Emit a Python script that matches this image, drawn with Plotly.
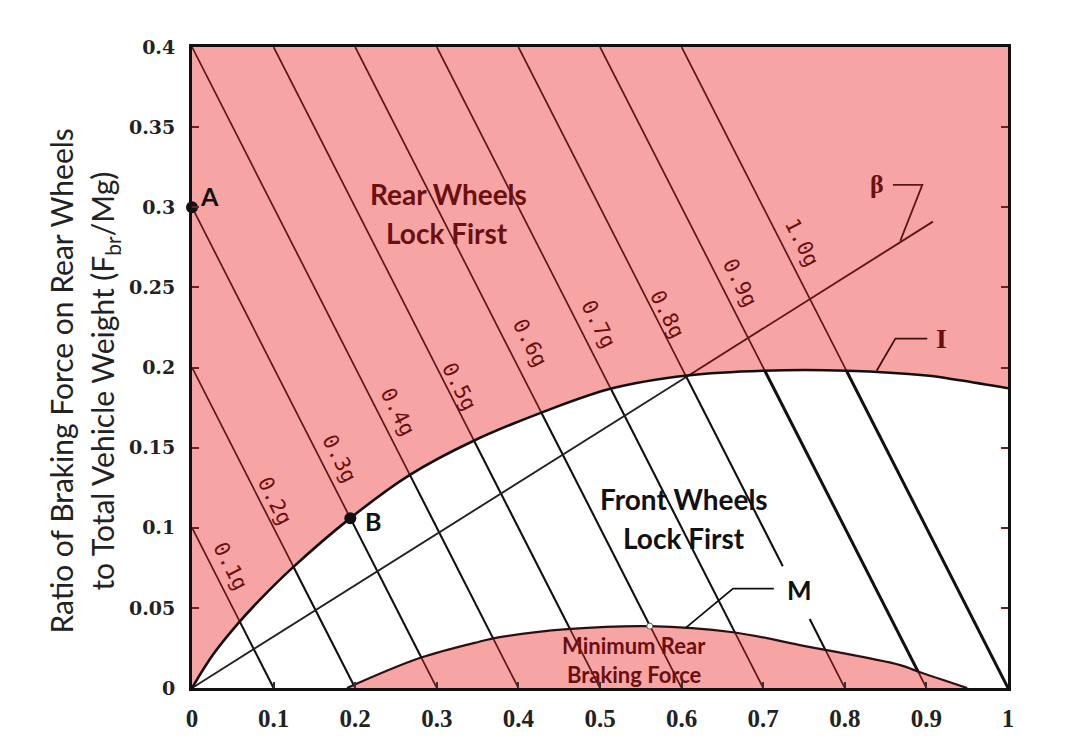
import math
import numpy as np
import plotly.graph_objects as go

# ---------------- data ----------------
decel_g = [0.1, 0.2, 0.3, 0.4, 0.5, 0.6, 0.7, 0.8, 0.9, 1.0]
decel_labels = ["0.1g", "0.2g", "0.3g", "0.4g", "0.5g", "0.6g", "0.7g", "0.8g", "0.9g", "1.0g"]

# ideal braking-force distribution curve "I"
ideal_x = [0.0, 0.026, 0.056, 0.083, 0.122, 0.194, 0.267, 0.344, 0.429, 0.515,
           0.607, 0.700, 0.803, 0.900, 0.941, 1.0]
ideal_y = [0.0, 0.021, 0.040, 0.055, 0.0745, 0.106, 0.133, 0.154, 0.172, 0.187,
           0.195, 0.198, 0.198, 0.195, 0.192, 0.187]

# minimum rear braking force curve "M"
minrear_x = [0.19, 0.279, 0.353, 0.377, 0.46, 0.561, 0.663, 0.745, 0.868, 0.888, 0.95]
minrear_y = [0.0, 0.0187, 0.029, 0.0317, 0.0367, 0.0386, 0.0348, 0.0268, 0.0143, 0.0106, 0.0]

# installed brake-force distribution line "beta"
beta_x = [0.0, 0.908]
beta_y = [0.0, 0.291]

point_names = ["A", "B"]
point_x = [0.0, 0.194]
point_y = [0.300, 0.106]

m_point_x = [0.561]
m_point_y = [0.0386]

x_tick_vals = [0, 0.1, 0.2, 0.3, 0.4, 0.5, 0.6, 0.7, 0.8, 0.9, 1.0]
x_tick_text = ["0", "0.1", "0.2", "0.3", "0.4", "0.5", "0.6", "0.7", "0.8", "0.9", "1"]
y_tick_vals = [0, 0.05, 0.1, 0.15, 0.2, 0.25, 0.3, 0.35, 0.4]
y_tick_text = ["0", "0.05", "0.1", "0.15", "0.2", "0.25", "0.3", "0.35", "0.4"]

# ---------------- layout constants ----------------
W, H = 1080, 744
ML, MR, MT, MB = 192, 72, 47, 54
X_RANGE = [0, 1.0]
Y_RANGE = [0, 0.4]

PINK = "#F7A4A4"
DARKRED = "#5c1818"
TEXTRED = "#6a1010"
BLACK = "#111111"

SANS = "Lato"
SERIF = "Liberation Serif"

# label positions for the deceleration labels (annotation placement)
decel_label_x = [0.047, 0.102, 0.181, 0.252, 0.328, 0.414, 0.498, 0.583, 0.672, 0.748]
decel_label_y = [0.076, 0.117, 0.143, 0.172, 0.188, 0.215, 0.227, 0.233, 0.253, 0.278]

# gap in the 0.8 g line for the "M" label
GAP_DECEL = 0.8
GAP_Y = (0.043, 0.076)

px_per_x = (W - ML - MR) / (X_RANGE[1] - X_RANGE[0])
px_per_y = (H - MT - MB) / (Y_RANGE[1] - Y_RANGE[0])
line_angle = math.degrees(math.atan2(px_per_y, px_per_x))


def cross(a, cx, cy, lo, hi):
    xs = np.linspace(lo, hi, 4001)
    f = (a - xs) - np.interp(xs, cx, cy)
    idx = np.nonzero(f[:-1] * f[1:] <= 0)[0]
    if idx.size == 0:
        return None
    i = idx[0]
    if f[i + 1] == f[i]:
        return xs[i]
    return xs[i] - f[i] * (xs[i + 1] - xs[i]) / (f[i + 1] - f[i])


thin_x, thin_y = [], []
blk_x, blk_y = [], []
thick_x, thick_y = [], []


def add(seg_x, seg_y, xa, xb, a):
    seg_x += [xa, xb, None]
    seg_y += [a - xa, a - xb, None]


for a in decel_g:
    x0 = max(0.0, a - Y_RANGE[1])
    xi = cross(a, ideal_x, ideal_y, 0.0, min(a, 1.0))
    add(thin_x, thin_y, x0, xi, a)
    xm = None
    if a > minrear_x[0]:
        xm = cross(a, minrear_x, minrear_y, minrear_x[0], min(a, minrear_x[-1]))
    xe = xm if xm is not None else a
    tx, ty = (thick_x, thick_y) if a >= 0.9 else (blk_x, blk_y)
    if abs(a - GAP_DECEL) < 1e-9:
        add(tx, ty, xi, a - GAP_Y[1], a)
        add(tx, ty, a - GAP_Y[0], xe, a)
    else:
        add(tx, ty, xi, xe, a)
    if xm is not None:
        add(thin_x, thin_y, xm, a, a)

# beta line split at its crossing with I
slope = beta_y[1] / beta_x[1]
xs = np.linspace(0.001, beta_x[1], 4001)
g = slope * xs - np.interp(xs, ideal_x, ideal_y)
k = np.nonzero(g[:-1] * g[1:] <= 0)[0][0]
xb = xs[k] - g[k] * (xs[k + 1] - xs[k]) / (g[k + 1] - g[k])

fig = go.Figure()

# white region under I, pink region under M
fig.add_trace(go.Scatter(x=ideal_x, y=ideal_y, mode="lines", line=dict(shape="spline", color=BLACK, width=0),
                         fill="tozeroy", fillcolor="white", hoverinfo="skip", showlegend=False))
fig.add_trace(go.Scatter(x=minrear_x, y=minrear_y, mode="lines", line=dict(shape="spline", color=BLACK, width=0),
                         fill="tozeroy", fillcolor=PINK, hoverinfo="skip", showlegend=False))

# deceleration lines
fig.add_trace(go.Scatter(x=thin_x, y=thin_y, mode="lines", line=dict(color=DARKRED, width=1.7),
                         hoverinfo="skip", showlegend=False))
fig.add_trace(go.Scatter(x=blk_x, y=blk_y, mode="lines", line=dict(color=BLACK, width=2.1),
                         hoverinfo="skip", showlegend=False))
fig.add_trace(go.Scatter(x=thick_x, y=thick_y, mode="lines", line=dict(color=BLACK, width=3.0),
                         hoverinfo="skip", showlegend=False))

# beta line
fig.add_trace(go.Scatter(x=[beta_x[0], xb], y=[beta_y[0], slope * xb], mode="lines",
                         line=dict(color="#222222", width=1.9), hoverinfo="skip", showlegend=False))
fig.add_trace(go.Scatter(x=[xb, beta_x[1]], y=[slope * xb, beta_y[1]], mode="lines",
                         line=dict(color=DARKRED, width=1.9), hoverinfo="skip", showlegend=False))

# curves on top
fig.add_trace(go.Scatter(x=ideal_x, y=ideal_y, mode="lines", line=dict(shape="spline", color=BLACK, width=2.6),
                         hoverinfo="skip", showlegend=False))
fig.add_trace(go.Scatter(x=minrear_x, y=minrear_y, mode="lines", line=dict(shape="spline", color="#2a1010", width=2.2),
                         hoverinfo="skip", showlegend=False))

# leader lines
fig.add_trace(go.Scatter(x=[0.859, 0.895, 0.868], y=[0.314, 0.314, 0.279], mode="lines",
                         line=dict(color=DARKRED, width=1.8), hoverinfo="skip", showlegend=False))
fig.add_trace(go.Scatter(x=[0.839, 0.862, 0.901], y=[0.198, 0.218, 0.218], mode="lines",
                         line=dict(color="#3a1010", width=1.8), hoverinfo="skip", showlegend=False))
fig.add_trace(go.Scatter(x=[0.605, 0.663, 0.713], y=[0.0375, 0.062, 0.062], mode="lines",
                         line=dict(color=BLACK, width=1.8), hoverinfo="skip", showlegend=False))

# points
fig.add_trace(go.Scatter(x=point_x, y=point_y, mode="markers", marker=dict(color=BLACK, size=12),
                         cliponaxis=False, hoverinfo="skip", showlegend=False))
fig.add_trace(go.Scatter(x=m_point_x, y=m_point_y, mode="markers",
                         marker=dict(color="white", size=6, line=dict(color="#555555", width=1)),
                         hoverinfo="skip", showlegend=False))

annotations = []
for lab, lx, ly in zip(decel_labels, decel_label_x, decel_label_y):
    annotations.append(dict(x=lx, y=ly, text=lab, showarrow=False, textangle=line_angle,
                            xanchor="center", yanchor="middle",
                            font=dict(family="DejaVu Sans Mono", size=21, color=TEXTRED)))


def txt(x, y, s, size, color, family=SANS, weight="bold"):
    annotations.append(dict(x=x, y=y, text=s, showarrow=False, xanchor="center", yanchor="middle",
                            font=dict(family=family, size=size, color=color, weight=weight)))


txt(0.314, 0.308, "Rear Wheels", 28, TEXTRED)
txt(0.313, 0.2837, "Lock First", 28, TEXTRED)
txt(0.603, 0.118, "Front Wheels", 28, BLACK)
txt(0.603, 0.0933, "Lock First", 28, BLACK)
txt(0.542, 0.0267, "Minimum Rear", 22, TEXTRED)
txt(0.542, 0.0087, "Braking Force", 22, TEXTRED)
txt(0.022, 0.307, "A", 25, BLACK)
txt(0.222, 0.1045, "B", 25, BLACK)
txt(0.745, 0.061, "M", 26, BLACK)
txt(0.839, 0.314, "β", 26, TEXTRED, family=SERIF)
txt(0.919, 0.218, "I", 28, TEXTRED, family=SERIF)

# y-axis title, two rotated lines
for s, xpx in [("Ratio of Braking Force on Rear Wheels", 61),
               ("to Total Vehicle Weight (F<sub>br</sub>/Mg)", 104)]:
    annotations.append(dict(xref="paper", yref="paper", x=0, y=0.478, xshift=xpx - ML,
                            text=s, showarrow=False, textangle=-90, xanchor="center", yanchor="middle",
                            font=dict(family=SANS, size=30, color="#222222")))

fig.update_layout(
    width=W, height=H,
    margin=dict(l=ML, r=MR, t=MT, b=MB),
    paper_bgcolor="white",
    plot_bgcolor=PINK,
    annotations=annotations,
    xaxis=dict(range=X_RANGE, tickvals=x_tick_vals, ticktext=x_tick_text,
               showgrid=False, zeroline=False, showline=True, linecolor=BLACK, linewidth=2.5,
               mirror=True, ticks="inside", ticklen=6, tickwidth=2, tickcolor="#333333",
               ticklabelstandoff=6,
               tickfont=dict(family=SERIF, size=25, color="#222222", weight="bold")),
    yaxis=dict(range=Y_RANGE, tickvals=y_tick_vals, ticktext=y_tick_text,
               showgrid=False, zeroline=False, showline=True, linecolor=BLACK, linewidth=3,
               mirror="ticks", ticks="inside", ticklen=7, tickwidth=2, tickcolor="#6a2020",
               ticklabelstandoff=10,
               tickfont=dict(family="DejaVu Serif", size=19, color="#222222", weight="bold")),
)

fig.write_html("out.html")
